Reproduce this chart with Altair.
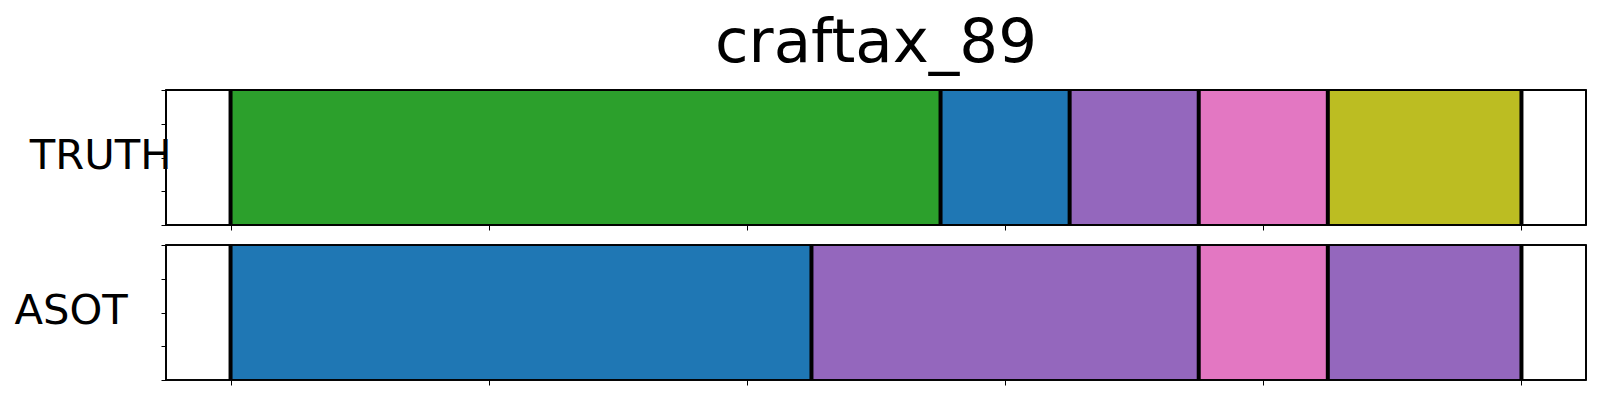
import altair as alt
import pandas as pd

title_text = "craftax_89"
row_names = ["TRUTH", "ASOT"]
truth_bounds = [0, 55, 65, 75, 85, 100]
truth_classes = [2, 0, 4, 6, 8]
asot_bounds = [0, 45, 75, 85, 100]
asot_classes = [0, 4, 6, 4]
class_ids = list(range(10))
tab10 = ["#1f77b4", "#ff7f0e", "#2ca02c", "#d62728", "#9467bd",
         "#8c564b", "#e377c2", "#7f7f7f", "#bcbd22", "#17becf"]
x_ticks = [0, 20, 40, 60, 80, 100]
y_ticks = [0, 0.25, 0.5, 0.75, 1.0]

FONT = "DejaVu Sans"
W, H = 1420, 135


def panel(name, bounds, classes, title_x, with_title):
    seg = pd.DataFrame({"start": bounds[:-1], "end": bounds[1:], "cls": classes})
    bnd = pd.DataFrame({"pos": bounds})
    xscale = alt.Scale(domain=[-5, 105], nice=False, zero=False)
    yscale = alt.Scale(domain=[0, 1], nice=False, zero=False)
    xaxis = alt.Axis(values=x_ticks, labels=False, title=None, domain=False,
                     ticks=True, tickSize=5, tickWidth=1, tickColor="black", grid=False)
    yaxis = alt.Axis(values=y_ticks, labels=False, title=name, titleAngle=0,
                     titleAlign="right", titleBaseline="alphabetic",
                     titleX=title_x, titleY=78.7, titleFontSize=41.7,
                     titleFont=FONT, titleFontWeight="normal", titleColor="black",
                     domain=False, ticks=True, tickSize=5, tickWidth=1,
                     tickColor="black", grid=False)
    rects = alt.Chart(seg).mark_rect().encode(
        x=alt.X("start:Q", scale=xscale, axis=xaxis),
        x2="end:Q",
        y=alt.YDatum(0, type="quantitative", scale=yscale, axis=yaxis),
        y2=alt.Y2Datum(1),
        color=alt.Color("cls:N", scale=alt.Scale(domain=class_ids, range=tab10), legend=None),
    )
    rules = alt.Chart(bnd).mark_rule(color="black", strokeWidth=4).encode(
        x=alt.X("pos:Q", scale=xscale, axis=xaxis),
        y=alt.YDatum(0, type="quantitative", scale=yscale, axis=yaxis),
        y2=alt.Y2Datum(1),
    )
    frame = alt.Chart(bnd).mark_rect(filled=False, stroke="black", strokeWidth=1.1).encode(
        x=alt.value(0), x2=alt.value("width"), y=alt.value(0), y2=alt.value("height")
    )
    props = dict(width=W, height=H)
    if with_title:
        props["title"] = alt.TitleParams(title_text, fontSize=61, font=FONT,
                                         fontWeight="normal", anchor="middle",
                                         frame="group", baseline="alphabetic",
                                         offset=-35, color="black")
    return alt.layer(rects, rules, frame).properties(**props)


top = panel(row_names[0], truth_bounds, truth_classes, 5, True)
bottom = panel(row_names[1], asot_bounds, asot_classes, -38.7, False)

chart = alt.vconcat(top, bottom, spacing=12).properties(
    padding={"left": 6, "top": 5, "right": 5, "bottom": 5}
).configure_view(stroke=None)

chart.save("out.html", embed_options={"renderer": "svg", "actions": False})
